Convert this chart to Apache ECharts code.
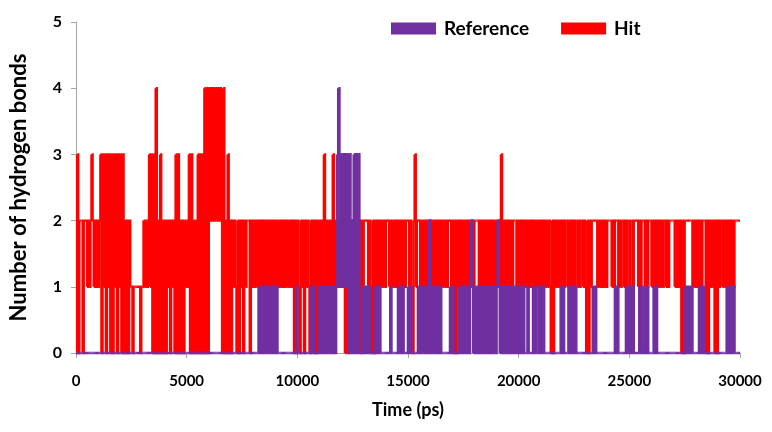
<!DOCTYPE html>
<html>
<head>
<meta charset="utf-8">
<script src="https://cdn.jsdelivr.net/npm/echarts@6/dist/echarts.min.js"></script>
<style>html,body{margin:0;padding:0;background:#fff}#c{width:772px;height:432px}</style>
</head>
<body>
<div id="c"></div>
<script>
const timeStep = 50;
const xTicks = [0, 5000, 10000, 15000, 20000, 25000, 30000];
const yTicks = [0, 1, 2, 3, 4, 5];
const seriesNames = ['Reference', 'Hit'];

// Hit: number of H-bonds, one digit per 50 ps
const hitChunks = [
  "0302220222","1212321212","1230313031","3030313031","3030202021",
  "1011111101","1212123130","3040203020","2021202120","3030202021",
  "2130302020","3030304040","4242424242","4204020302","0212102021",
  "2021222021","2121212121","2121212121","2121212121","2121212020",
  "2102120212","1021202021","2121312121","2131212121","2120202121",
  "2121212021","2222121020","2121212121","2221212121","2121212122",
  "2121023122","2121212121","2121212121","2121212221","2020212121",
  "2121212121","2222121212","1212121212","1212312121","2122122212",
  "1212212121","2122121212","1212121210","2021212121","2122121212",
  "1221212212","1020212222","2121212121","2222121222","1212212122",
  "1221222212","1222121222","1212121212","1221212222","2121212020",
  "2222222121","2121212220","2021212020","2122121212","12121222222"
];

// Reference: number of H-bonds, one digit per 50 ps
const refChunks = [
  "0000000000","0000000000","0000000000","0000000000","0000000000",
  "0000000000","0000000000","0000000000","0000000000","0000000000",
  "0000000000","0000000000","0000000000","0000000000","0000000000",
  "0000000000","0000010100","1010100101","0100000000","0000000001",
  "0000000000","0010100001","0101010101","0101013413","1313130302",
  "0303030001","0101010000","1010100000","0000100000","0101010000",
  "1010000001","0101010102","0101010101","0000000010","1000001010",
  "1010101210","1010101010","1010101010","1210101010","1010101010",
  "1010100010","0001010010","1010000000","0000000010","1000010101",
  "0100000000","0000000101","0000000000","0000000101","0000000101",
  "0101000001","0100101000","0010100000","0000000000","0000000000",
  "1010101000","0001010100","0000000000","0000000010","1010100000","0"
];

const hitValues = hitChunks.join('').split('').map(Number);
const refValues = refChunks.join('').split('').map(Number);

// Each item: [time, value, nextTime, nextValue] -> one step of the trace
const toSegments = vals => vals.map((v, i) => {
  const j = Math.min(i + 1, vals.length - 1);
  return [i * timeStep, v, j * timeStep, vals[j]];
});

// Draw each sample as a step: vertical jump at its time, then hold to the next sample
function traceRenderer(color, width) {
  return function (params, api) {
    const p0 = api.coord([api.value(0), api.value(1)]);
    const p1 = api.coord([api.value(2), api.value(1)]);
    const p2 = api.coord([api.value(2), api.value(3)]);
    return {
      type: 'polyline',
      shape: {points: [p0, p1, p2]},
      style: {stroke: color, lineWidth: width, lineJoin: 'miter', lineCap: 'butt', fill: null}
    };
  };
}

const RED = '#ff0000', PURPLE = '#7030a0';
const chart = echarts.init(document.getElementById('c'), null, {renderer: 'canvas'});
const FONT = 'Lato';
chart.setOption({
  animation: false,
  backgroundColor: '#ffffff',
  textStyle: {fontFamily: FONT},
  grid: {left: 74, right: 32, top: 22, bottom: 79, containLabel: false},
  legend: {
    data: seriesNames,
    left: 386, top: 14,
    icon: 'rect', itemWidth: 45, itemHeight: 12, itemGap: 32,
    textStyle: {fontFamily: FONT, fontWeight: 'bold', fontSize: 19, color: '#000', padding: [0, 0, 0, 3]}
  },
  xAxis: {
    type: 'value', min: xTicks[0], max: xTicks[xTicks.length - 1], interval: xTicks[1] - xTicks[0],
    name: 'Time (ps)', nameLocation: 'middle', nameGap: 48,
    nameTextStyle: {fontFamily: FONT, fontWeight: 'bold', fontSize: 18, color: '#000'},
    axisLine: {show: true, lineStyle: {color: '#a6a6a6', width: 1}},
    axisTick: {show: true, length: 5, lineStyle: {color: '#a6a6a6'}},
    axisLabel: {fontFamily: FONT, fontWeight: 'bold', fontSize: 15, color: '#000', margin: 21,
      formatter: v => String(v)},
    splitLine: {show: false}
  },
  yAxis: {
    type: 'value', min: yTicks[0], max: yTicks[yTicks.length - 1], interval: 1,
    name: 'Number of hydrogen bonds', nameLocation: 'middle', nameGap: 46,
    nameTextStyle: {fontFamily: FONT, fontWeight: 'bold', fontSize: 22, color: '#000'},
    axisLine: {show: true, lineStyle: {color: '#a6a6a6', width: 1}},
    axisTick: {show: true, length: 5, lineStyle: {color: '#a6a6a6'}},
    axisLabel: {fontFamily: FONT, fontWeight: 'bold', fontSize: 16, color: '#000', margin: 14},
    splitLine: {show: false}
  },
  series: [
    {
      name: 'Hit', type: 'custom', data: toSegments(hitValues),
      encode: {x: [0, 2], y: [1, 3]},
      renderItem: traceRenderer(RED, 2.4), z: 2,
      itemStyle: {color: RED}
    },
    {
      name: 'Reference', type: 'custom', data: toSegments(refValues),
      encode: {x: [0, 2], y: [1, 3]},
      renderItem: traceRenderer(PURPLE, 2.6), z: 3,
      itemStyle: {color: PURPLE}
    }
  ]
});
</script>
</body>
</html>
